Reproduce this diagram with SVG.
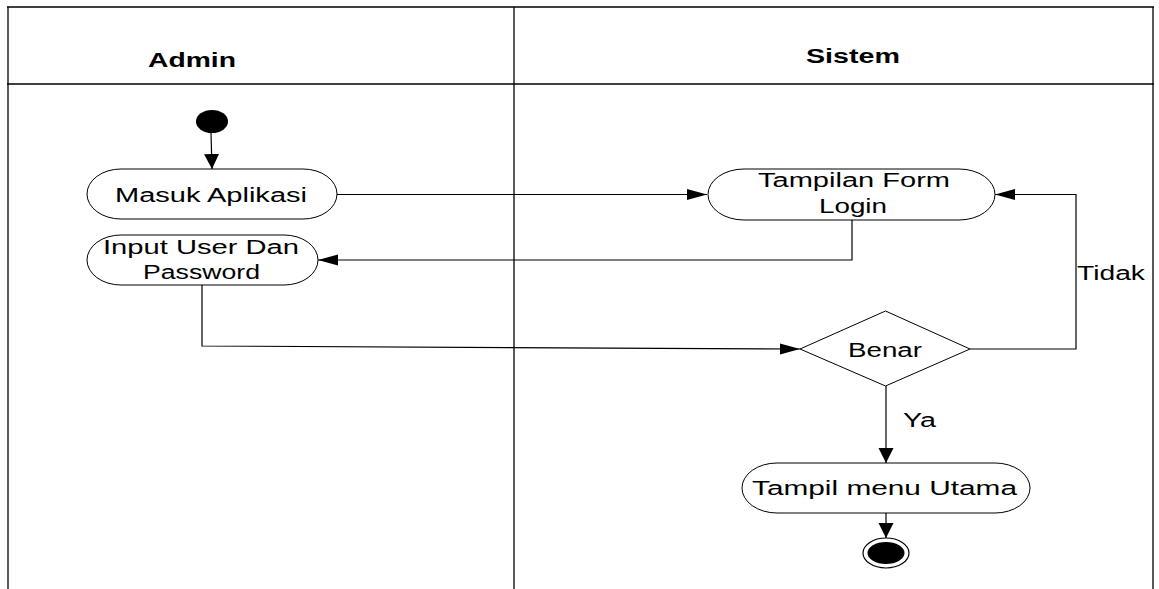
<svg xmlns="http://www.w3.org/2000/svg" width="1159" height="589" viewBox="0 0 1159 589">
<style>
.lane{stroke:#000;stroke-width:1.3;fill:none}
.node{fill:#fff;stroke:#000;stroke-width:1}
.t{font-family:"Liberation Sans",Arial,sans-serif;font-size:20px;fill:#000}
.h{font-family:"Liberation Sans",Arial,sans-serif;font-size:19.5px;font-weight:bold;fill:#000}
.c{stroke:#000;stroke-width:1.2;fill:none}
</style>
<defs>
<marker id="arrH" markerWidth="22" markerHeight="12" refX="20" refY="5.5" orient="auto" markerUnits="userSpaceOnUse">
<path d="M0,0 L20,5.5 L0,11 Z" fill="#000"/>
</marker>
<marker id="arrV" markerWidth="17" markerHeight="16" refX="15" refY="7.5" orient="auto" markerUnits="userSpaceOnUse">
<path d="M0,0 L15,7.5 L0,15 Z" fill="#000"/>
</marker>
</defs>
<g id="swimlanes">
<line class="lane" x1="7" y1="7" x2="1154" y2="7"/>
<line class="lane" x1="7" y1="84" x2="1154" y2="84"/>
<line class="lane" x1="8" y1="7" x2="8" y2="589"/>
<line class="lane" x1="514" y1="7" x2="514" y2="589"/>
<line class="lane" x1="1153" y1="7" x2="1153" y2="589"/>
<text class="h" x="148" y="67" textLength="88" lengthAdjust="spacingAndGlyphs">Admin</text>
<text class="h" x="806" y="63" textLength="94" lengthAdjust="spacingAndGlyphs">Sistem</text>
</g>
<g id="connectors">
<line class="c" x1="211" y1="133" x2="212" y2="169" marker-end="url(#arrV)"/>
<line class="c" x1="337" y1="194.5" x2="707" y2="194.5" marker-end="url(#arrH)"/>
<polyline class="c" points="852,220 852,260 318,260" marker-end="url(#arrH)"/>
<polyline class="c" points="202,285 202,346 800,349" marker-end="url(#arrH)"/>
<polyline class="c" points="970,349 1076,349 1076,194.5 995,194.5" marker-end="url(#arrH)"/>
<line class="c" x1="886" y1="386" x2="886" y2="463" marker-end="url(#arrV)"/>
<line class="c" x1="886" y1="513" x2="886" y2="538" marker-end="url(#arrV)"/>
<text class="t" x="1077" y="280" textLength="68" lengthAdjust="spacingAndGlyphs">Tidak</text>
<text class="t" x="903" y="427" textLength="33" lengthAdjust="spacingAndGlyphs">Ya</text>
</g>
<g id="start">
<ellipse cx="212" cy="121.5" rx="16" ry="11.5" fill="#000"/>
</g>
<g id="masuk-aplikasi">
<rect class="node" x="87" y="169" width="250" height="50" rx="34" ry="25"/>
<text class="t" x="115" y="202" textLength="192" lengthAdjust="spacingAndGlyphs">Masuk Aplikasi</text>
</g>
<g id="input-user">
<rect class="node" x="87" y="235" width="231" height="50" rx="34" ry="25"/>
<text class="t" x="103" y="254" textLength="196" lengthAdjust="spacingAndGlyphs">Input User Dan</text>
<text class="t" x="143" y="279" textLength="117" lengthAdjust="spacingAndGlyphs">Password</text>
</g>
<g id="tampilan-form">
<rect class="node" x="708" y="169" width="287" height="51" rx="36" ry="25.5"/>
<text class="t" x="758" y="187" textLength="192" lengthAdjust="spacingAndGlyphs">Tampilan Form</text>
<text class="t" x="819" y="213" textLength="68" lengthAdjust="spacingAndGlyphs">Login</text>
</g>
<g id="benar">
<polygon class="node" points="800,349 885.5,311 970,349 885.5,386"/>
<text class="t" x="848" y="357" textLength="74" lengthAdjust="spacingAndGlyphs">Benar</text>
</g>
<g id="tampil-menu">
<rect class="node" x="742" y="463" width="288" height="50" rx="35" ry="25"/>
<text class="t" x="752" y="495" textLength="265" lengthAdjust="spacingAndGlyphs">Tampil menu Utama</text>
</g>
<g id="end">
<ellipse cx="886" cy="553" rx="23" ry="15" fill="#fff" stroke="#000" stroke-width="1.2"/>
<ellipse cx="886" cy="553" rx="18.5" ry="11" fill="#000"/>
</g>
</svg>
